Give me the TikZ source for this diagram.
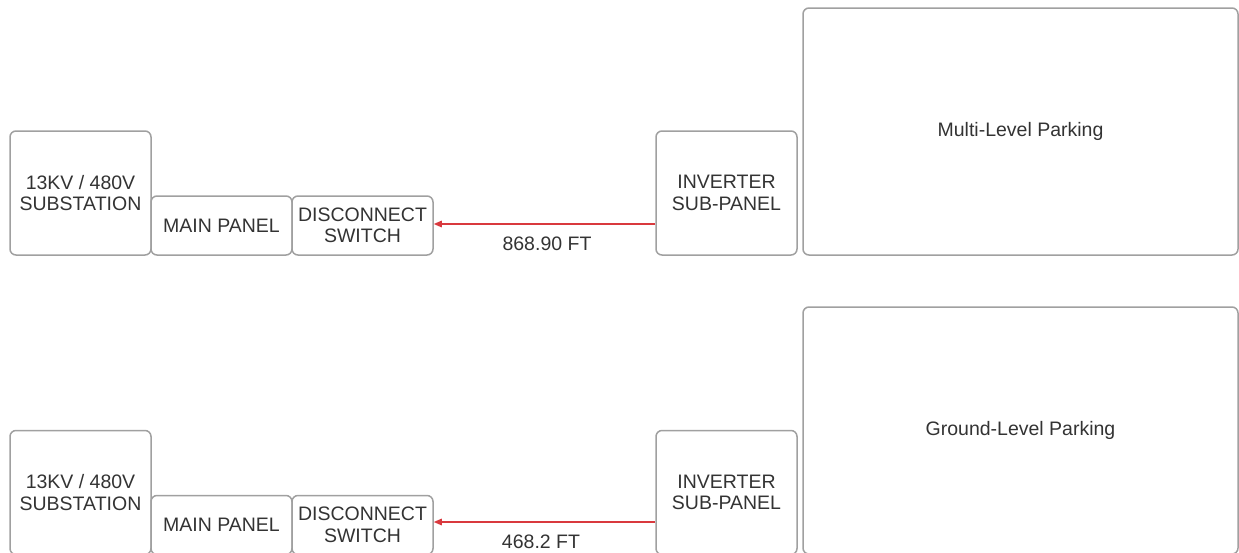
\documentclass[tikz,border=0pt]{standalone}
\usepackage{fontspec}
\setmainfont{Liberation Sans}
\usetikzlibrary{arrows.meta}
\definecolor{boxgray}{HTML}{A0A0A0}
\definecolor{txtgray}{HTML}{333333}
\definecolor{wire}{HTML}{D9393E}
\begin{document}
\begin{tikzpicture}[x=1pt,y=-1pt,
  box/.style={draw=boxgray,line width=1.5pt,rounded corners=6pt,fill=white,
    text=txtgray,align=center,inner sep=0pt,
    font=\fontsize{19.5}{21.5}\selectfont},
  wirearrow/.style={draw=wire,line width=1.4pt,-{Triangle[length=8pt,width=6.5pt]}},
  lbl/.style={text=txtgray,font=\fontsize{19.5}{21.5}\selectfont,inner sep=0pt}]
\useasboundingbox (0,0) rectangle (1239,552);
\clip (0,0) rectangle (1239,552);
% ---------- top row ----------
\node[box,minimum width=141pt,minimum height=124pt] (sub1) at (80.5,193) {13KV / 480V\\SUBSTATION};
\node[box,minimum width=141pt,minimum height=59pt] (main1) at (221.5,225.5) {MAIN PANEL};
\node[box,minimum width=141pt,minimum height=59pt] (dis1) at (362.5,225.5) {DISCONNECT\\SWITCH};
\node[box,minimum width=141pt,minimum height=124pt] (inv1) at (726.5,193) {INVERTER\\SUB-PANEL};
\node[box,minimum width=435pt,minimum height=247pt] (park1) at (1020.5,131.5) {Multi-Level Parking};
\draw[wirearrow] (inv1.west |- 0,224) coordinate (a1) -- (dis1.east |- 0,224) coordinate (b1);
\node[lbl] (len1) at (547,244) {868.90 FT};
% ---------- bottom row ----------
\node[box,minimum width=141pt,minimum height=124pt] (sub2) at (80.5,492.5) {13KV / 480V\\SUBSTATION};
\node[box,minimum width=141pt,minimum height=59pt] (main2) at (221.5,525) {MAIN PANEL};
\node[box,minimum width=141pt,minimum height=59pt] (dis2) at (362.5,525) {DISCONNECT\\SWITCH};
\node[box,minimum width=141pt,minimum height=124pt] (inv2) at (726.5,492.5) {INVERTER\\SUB-PANEL};
\node[box,minimum width=435pt,minimum height=247pt] (park2) at (1020.5,430.5) {Ground-Level Parking};
\draw[wirearrow] (inv2.west |- 0,522) coordinate (a2) -- (dis2.east |- 0,522) coordinate (b2);
\node[lbl] (len2) at (541,542) {468.2 FT};
\end{tikzpicture}
\end{document}
